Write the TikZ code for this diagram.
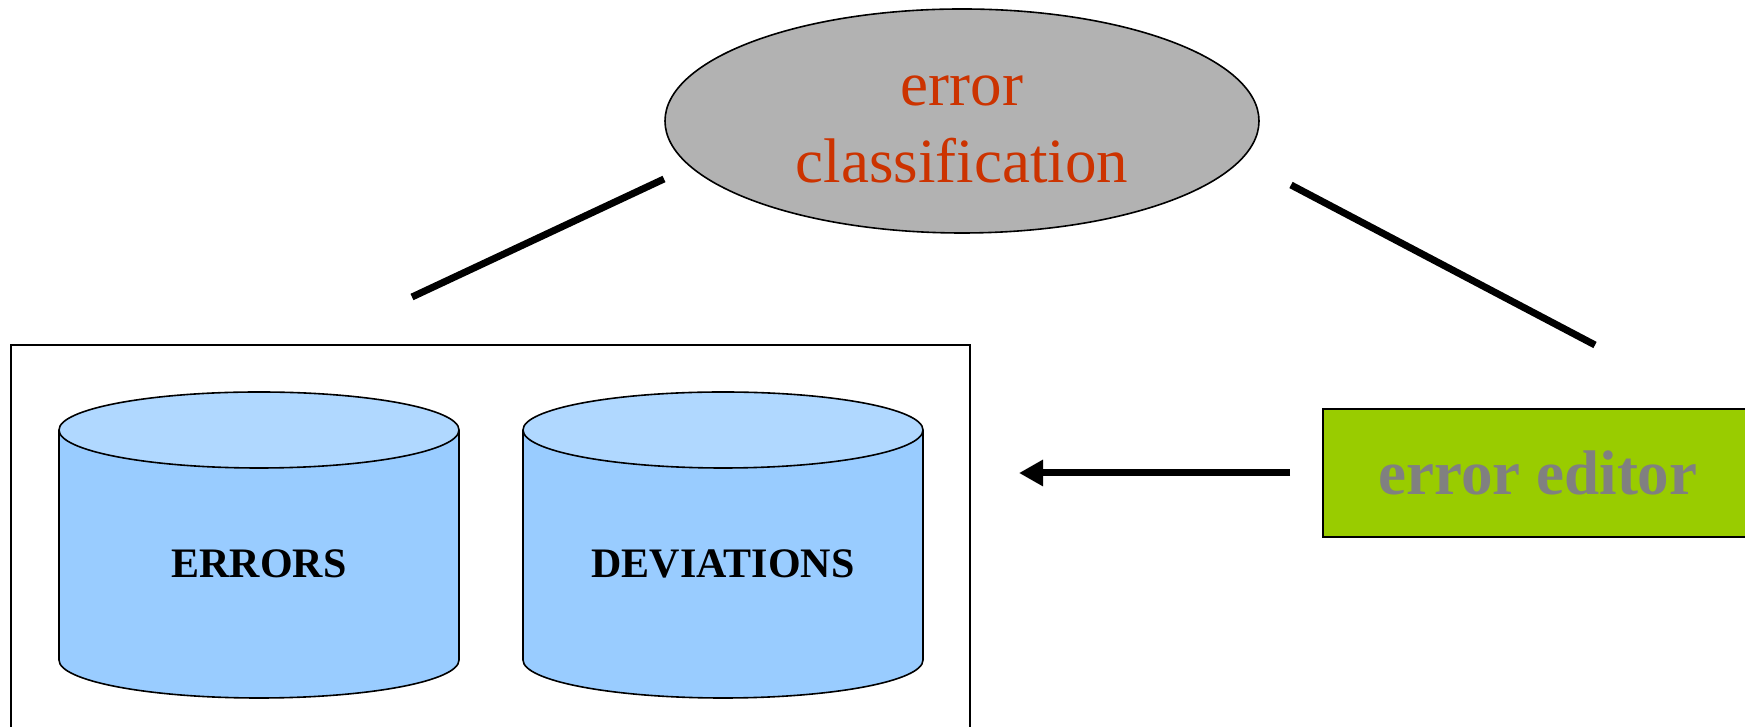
\documentclass[tikz,border=0pt]{standalone}
\usepackage{fontspec}
\setmainfont{Liberation Serif}
\usetikzlibrary{shapes.geometric,arrows.meta}

\definecolor{clsgray}{HTML}{B2B2B2}
\definecolor{clsred}{HTML}{CC3300}
\definecolor{dbbody}{HTML}{99CCFF}
\definecolor{dbtop}{HTML}{B0D8FF}
\definecolor{edgreen}{HTML}{99CC00}
\definecolor{edtext}{HTML}{808080}

\tikzset{
  outline/.style={draw=black, line width=1.6pt},
  clsshape/.style={outline, ellipse, fill=clsgray, inner sep=0pt,
    minimum width=594pt, minimum height=224pt},
  clstext/.style={text=clsred, font=\fontsize{63}{77}\selectfont, inner sep=0pt},
  edbox/.style={outline, fill=edgreen, minimum width=430pt, minimum height=128pt,
    text=edtext, font=\fontsize{63}{77}\selectfont\bfseries, inner sep=0pt},
  dblabel/.style={font=\fontsize{42}{50}\selectfont\bfseries, inner sep=0pt},
  thickline/.style={line width=7pt, black},
  flow/.style={line width=7pt, black, -{Triangle[length=24pt,width=25pt]}},
}

% cylinder: #1 = centre x, #2 = top centre y, #3 = bottom centre y
\newcommand{\dbcylinder}[3]{%
  \fill[dbbody] (#1-200,#2) -- (#1-200,#3)
    arc[start angle=180, end angle=360, x radius=200, y radius=38]
    -- (#1+200,#2) -- cycle;
  \draw[outline] (#1-200,#2) -- (#1-200,#3)
    arc[start angle=180, end angle=360, x radius=200, y radius=38]
    -- (#1+200,#2);
  \draw[outline, fill=dbtop] (#1,#2) ellipse[x radius=200, y radius=38];
}

\begin{document}
\begin{tikzpicture}[x=1pt, y=1pt]
  \useasboundingbox (0,0) rectangle (1745,727);
  \clip (0,0) rectangle (1745,727);

  % container of the two stores (open at the bottom edge)
  \draw[outline] (11,-20) -- (11,382) -- (970,382) -- (970,-20);
  \coordinate (store) at (970,254);

  % data stores
  \dbcylinder{259}{297}{67}
  \dbcylinder{723}{297}{67}
  \node[dblabel] (errors) at (259,163) {ERRORS};
  \node[dblabel] (deviations) at (723,163) {DEVIATIONS};

  % classification
  \node[clsshape] (cls) at (962,606) {};
  \node[clstext, anchor=base] (clsA) at ([yshift=15pt]cls.center) {error};
  \node[clstext, anchor=base] (clsB) at ([yshift=-62pt]cls.center) {classification};

  % editor
  \node[edbox] (ed) at (1538,254) {error editor};

  % links
  \coordinate (l1) at (412,430);
  \coordinate (l2) at (664,548);
  \coordinate (r1) at (1291,542);
  \coordinate (r2) at (1595,382);
  \draw[thickline] (l1) -- (l2);
  \draw[thickline] (r1) -- (r2);
  \draw[flow, shorten <=32pt, shorten >=49pt] (ed.west) -- (store);
\end{tikzpicture}
\end{document}
